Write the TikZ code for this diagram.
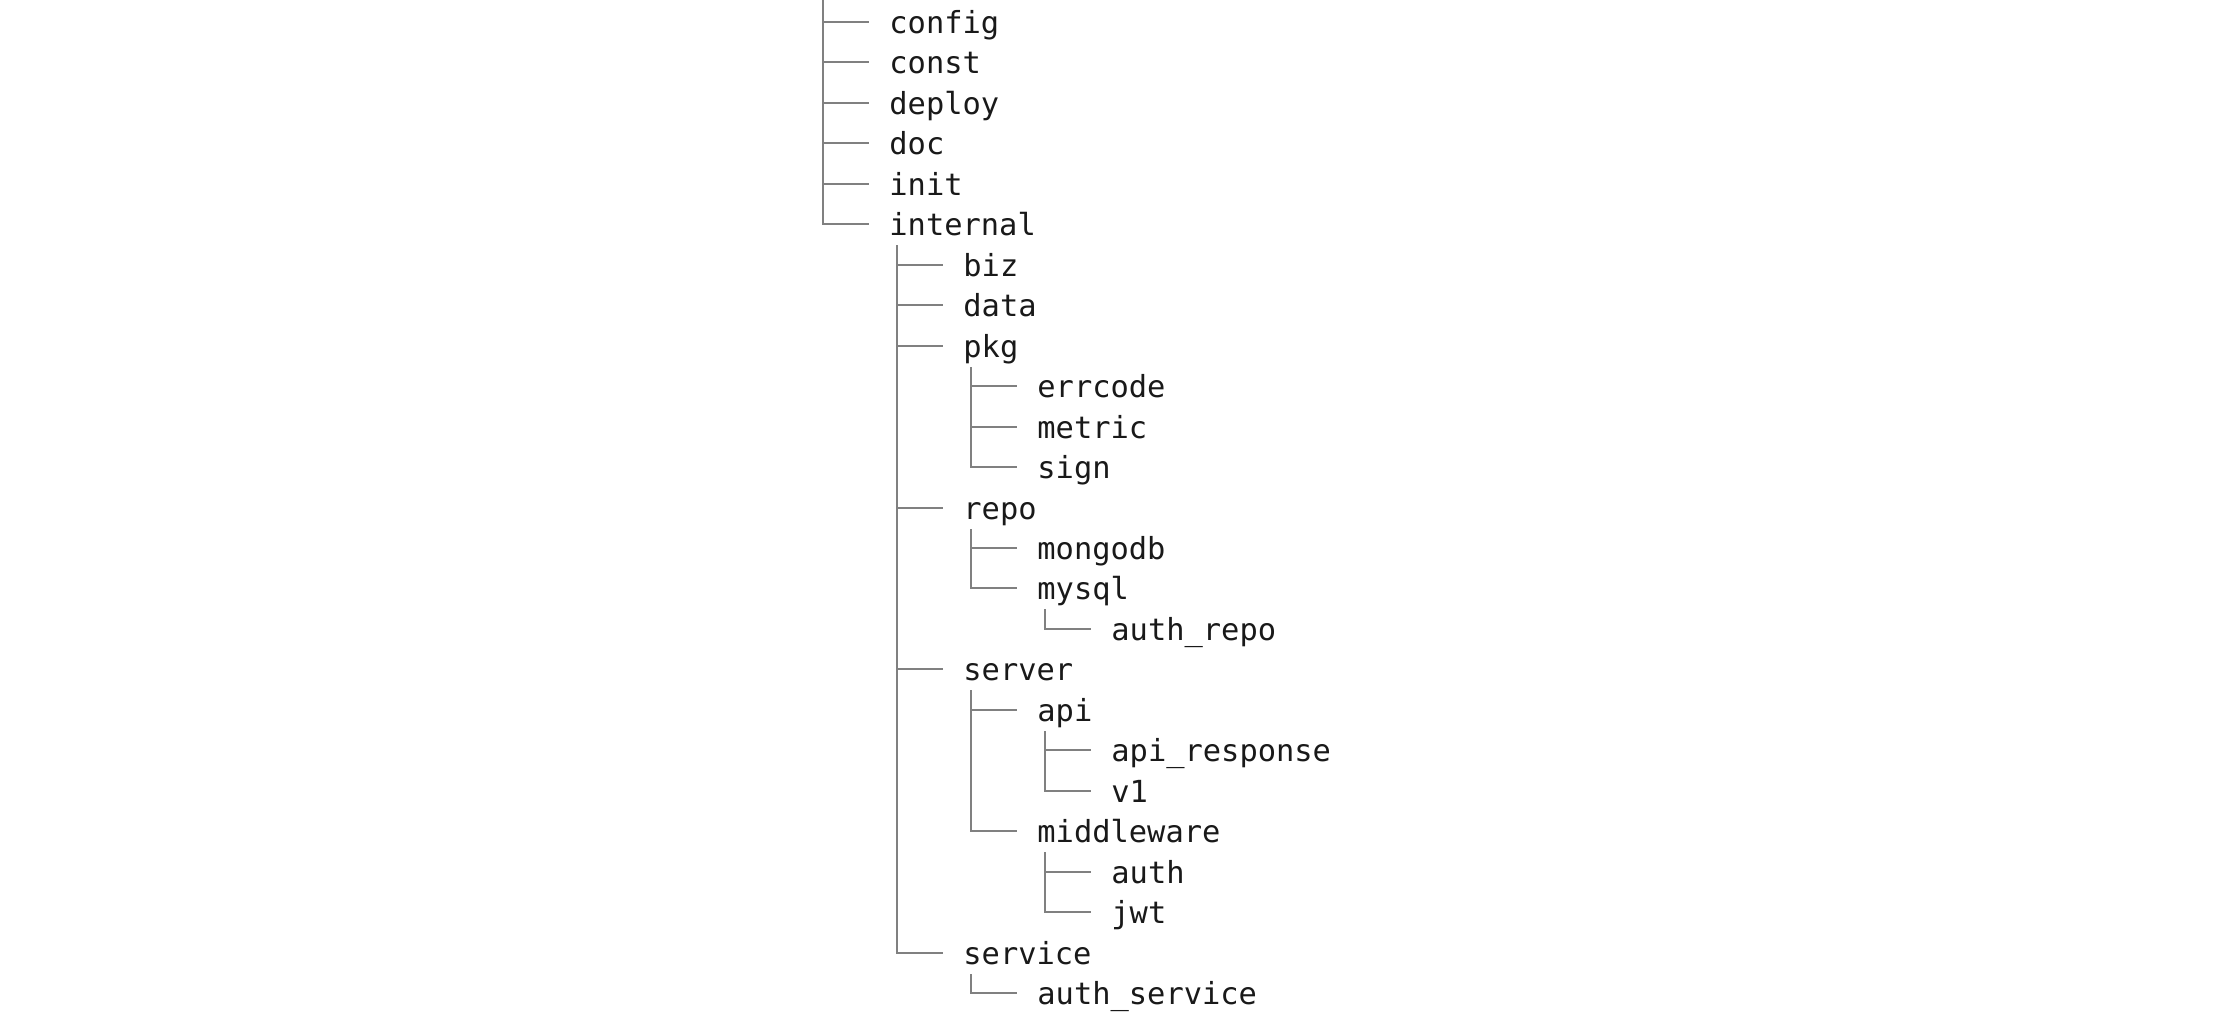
\documentclass[tikz,border=0pt]{standalone}
\usepackage{fontspec}
\setmonofont{DejaVu Sans Mono}
\usetikzlibrary{calc}
\begin{document}
\begin{tikzpicture}[x=0.5pt,y=-0.5pt,
  entry/.style={anchor=base west, inner sep=0pt, yshift=-5.5pt,
    font=\ttfamily\fontsize{15.2}{18}\selectfont, text=black!90},
  branch/.style={draw=black!50, line width=1pt}]
\useasboundingbox (0,0) rectangle (2234,1024);

% folder entries (x = indent level, y = row of the branch line)
\node[entry] (config)      at (889,22)    {config};
\node[entry] (const)       at (889,62)    {const};
\node[entry] (deploy)      at (889,103)   {deploy};
\node[entry] (doc)         at (889,143)   {doc};
\node[entry] (init)        at (889,184)   {init};
\node[entry] (internal)    at (889,224)   {internal};
\node[entry] (biz)         at (963,265)   {biz};
\node[entry] (data)        at (963,305)   {data};
\node[entry] (pkg)         at (963,346)   {pkg};
\node[entry] (errcode)     at (1037,386)  {errcode};
\node[entry] (metric)      at (1037,427)  {metric};
\node[entry] (sign)        at (1037,467)  {sign};
\node[entry] (repo)        at (963,508)   {repo};
\node[entry] (mongodb)     at (1037,548)  {mongodb};
\node[entry] (mysql)       at (1037,588)  {mysql};
\node[entry] (authrepo)    at (1111,629)  {auth\_repo};
\node[entry] (server)      at (963,669)   {server};
\node[entry] (api)         at (1037,710)  {api};
\node[entry] (apiresp)     at (1111,750)  {api\_response};
\node[entry] (v1)          at (1111,791)  {v1};
\node[entry] (middleware)  at (1037,831)  {middleware};
\node[entry] (auth)        at (1111,872)  {auth};
\node[entry] (jwt)         at (1111,912)  {jwt};
\node[entry] (service)     at (963,953)   {service};
\node[entry] (authservice) at (1037,993)  {auth\_service};

% trunk of the top level runs in from the upper edge
\coordinate (root) at (823,0);

% branch lines: base of a label sits 11px below its branch line
\newcommand\rootbranch[1]{\draw[branch] (root) |- ($(#1.base west)+(-20,-11)$);}
\newcommand\branchto[2]{\draw[branch] ($(#1.base west)+(8,10)$) |- ($(#2.base west)+(-20,-11)$);}

\rootbranch{config}
\rootbranch{const}
\rootbranch{deploy}
\rootbranch{doc}
\rootbranch{init}
\rootbranch{internal}

\branchto{internal}{biz}
\branchto{internal}{data}
\branchto{internal}{pkg}
\branchto{internal}{repo}
\branchto{internal}{server}
\branchto{internal}{service}

\branchto{pkg}{errcode}
\branchto{pkg}{metric}
\branchto{pkg}{sign}

\branchto{repo}{mongodb}
\branchto{repo}{mysql}
\branchto{mysql}{authrepo}

\branchto{server}{api}
\branchto{server}{middleware}
\branchto{api}{apiresp}
\branchto{api}{v1}
\branchto{middleware}{auth}
\branchto{middleware}{jwt}

\branchto{service}{authservice}
\end{tikzpicture}
\end{document}
